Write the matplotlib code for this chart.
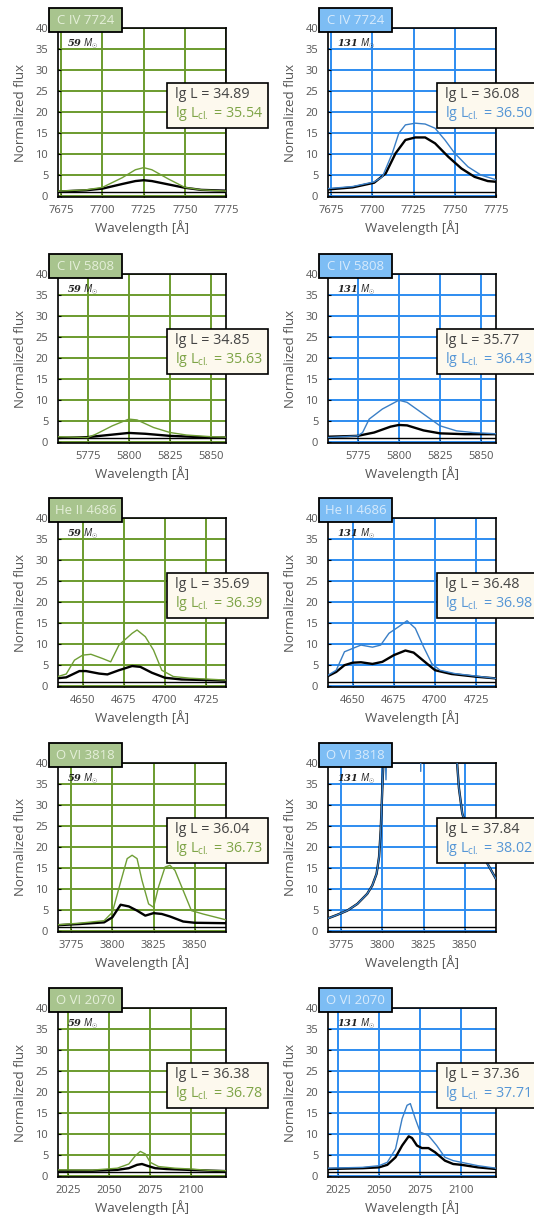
import matplotlib
matplotlib.use("Agg")
import matplotlib.pyplot as plt
from matplotlib.patches import Rectangle
from matplotlib.ticker import MultipleLocator

plt.rcParams['font.family'] = ['Open Sans', 'DejaVu Sans']
plt.rcParams['mathtext.fontset'] = 'custom'
plt.rcParams['mathtext.rm'] = 'Open Sans'
plt.rcParams['mathtext.it'] = 'Open Sans:italic'

# ---------------- data ----------------
line_names = ["C IV 7724", "C IV 5808", "He II 4686", "O VI 3818", "O VI 2070"]
line_centers = [7724, 5808, 4686, 3818, 2070]
masses = ["59", "131"]
lgL = [[34.89, 36.08], [34.85, 35.77], [35.69, 36.48], [36.04, 37.84], [36.38, 37.36]]
lgL_cl = [[35.54, 36.50], [35.63, 36.43], [36.39, 36.98], [36.73, 38.02], [36.78, 37.71]]
continuum = [1.0]

# C IV 7724, 59 Msun
wl_civ7724_59 = [7673, 7690, 7700, 7712, 7720, 7725, 7730, 7740, 7750, 7760, 7776]
fx_civ7724_59 = [1.0, 1.3, 1.7, 2.8, 3.5, 3.7, 3.5, 2.7, 1.9, 1.4, 1.2]
fxcl_civ7724_59 = [1.1, 1.4, 2.0, 4.3, 6.2, 6.7, 6.2, 4.0, 2.0, 1.4, 1.1]
# C IV 7724, 131 Msun
wl_civ7724_131 = [7673, 7688, 7701, 7708, 7714, 7720, 7726, 7732, 7738, 7746, 7754, 7762, 7770, 7776]
fx_civ7724_131 = [1.5, 2.0, 3.1, 5.3, 10.1, 13.3, 13.9, 13.9, 12.5, 9.3, 6.5, 4.5, 3.5, 3.3]
wlcl_civ7724_131 = [7673, 7688, 7701, 7706, 7712, 7716, 7720, 7726, 7732, 7738, 7744, 7750, 7758, 7766, 7776]
fxcl_civ7724_131 = [1.7, 2.2, 3.3, 4.5, 10.1, 14.9, 16.9, 17.3, 17.1, 16.1, 13.3, 10.1, 6.9, 4.9, 3.7]

# C IV 5808, 59 Msun
wl_civ5808_59 = [5757, 5775, 5790, 5800, 5810, 5825, 5850, 5859]
fx_civ5808_59 = [0.9, 1.1, 1.7, 2.1, 1.9, 1.4, 1.0, 1.0]
wlcl_civ5808_59 = [5757, 5775, 5780, 5790, 5800, 5805, 5815, 5825, 5835, 5850, 5859]
fxcl_civ5808_59 = [1.2, 1.0, 1.8, 3.8, 5.4, 5.2, 3.4, 2.2, 1.6, 1.2, 1.1]
# C IV 5808, 131 Msun
wl_civ5808_131 = [5757, 5775, 5785, 5795, 5800, 5805, 5815, 5825, 5840, 5859]
fx_civ5808_131 = [1.2, 1.4, 2.2, 3.6, 4.0, 3.9, 2.7, 2.0, 1.8, 1.8]
wlcl_civ5808_131 = [5757, 5775, 5778, 5782, 5790, 5800, 5805, 5815, 5825, 5835, 5845, 5859]
fxcl_civ5808_131 = [1.0, 1.4, 2.2, 5.4, 7.8, 9.9, 9.4, 6.6, 3.8, 2.6, 2.2, 1.9]

# He II 4686, 59 Msun
wl_heii_59 = [4635, 4640, 4648, 4652, 4660, 4665, 4672, 4680, 4685, 4692, 4700, 4710, 4725, 4737]
fx_heii_59 = [1.8, 2.0, 3.5, 3.5, 2.9, 2.7, 3.7, 4.7, 4.5, 3.1, 1.9, 1.5, 1.35, 1.2]
wlcl_heii_59 = [4635, 4640, 4645, 4650, 4655, 4662, 4667, 4672, 4680, 4683, 4688, 4693, 4698, 4705, 4715, 4725, 4737]
fxcl_heii_59 = [2.2, 2.8, 6.1, 7.3, 7.5, 6.5, 5.7, 9.7, 12.5, 13.3, 11.7, 8.5, 3.7, 2.2, 1.8, 1.6, 1.35]
# He II 4686, 131 Msun
wl_heii_131 = [4635, 4640, 4645, 4650, 4655, 4662, 4668, 4675, 4682, 4687, 4695, 4700, 4710, 4725, 4737]
fx_heii_131 = [2.3, 3.3, 4.9, 5.5, 5.6, 5.2, 5.7, 7.3, 8.4, 7.9, 5.3, 3.7, 2.8, 2.15, 1.75]
wlcl_heii_131 = [4635, 4640, 4645, 4650, 4655, 4662, 4667, 4672, 4678, 4683, 4688, 4693, 4698, 4703, 4712, 4725, 4737]
fxcl_heii_131 = [2.5, 3.7, 8.1, 8.9, 9.7, 9.2, 9.7, 12.5, 14.1, 15.5, 13.7, 9.3, 5.3, 3.7, 2.9, 2.3, 1.75]

# O VI 3818, 59 Msun
wl_ovi3818_59 = [3766, 3780, 3795, 3800, 3805, 3810, 3815, 3820, 3825, 3830, 3835, 3843, 3850, 3869]
fx_ovi3818_59 = [1.3, 1.6, 2.0, 3.2, 6.2, 5.8, 4.8, 3.6, 4.2, 4.0, 3.4, 2.2, 1.9, 1.8]
wlcl_ovi3818_59 = [3766, 3780, 3795, 3800, 3805, 3809, 3812, 3815, 3818, 3822, 3825, 3828, 3832, 3835, 3838, 3843, 3848, 3855, 3869]
fxcl_ovi3818_59 = [1.4, 1.8, 2.4, 4.4, 11.6, 17.2, 18.0, 17.2, 12.0, 6.4, 5.6, 10.4, 15.2, 15.6, 14.4, 9.6, 4.8, 4.0, 2.6]
# O VI 3818, 131 Msun
wl_ovi3818_131 = [3766, 3772.6, 3778.7, 3784.8, 3790.8, 3793.9, 3796.5, 3798, 3799, 3799.8, 3800.6,
                  3803, 3810, 3825, 3840, 3845, 3846.5, 3848.5, 3851.5, 3855.5, 3861.5, 3865.5, 3869.5]
fx_ovi3818_131 = [2.8, 3.8, 4.8, 6.4, 8.8, 10.8, 13.6, 17.6, 24.0, 32.0, 40.0,
                  52, 75, 90, 70, 42, 34, 28, 24, 20.8, 17.6, 14.8, 12.0]
wlcl_ovi3818_131 = [3766, 3772.6, 3778.7, 3784.8, 3790.8, 3793.9, 3796.5, 3798, 3799, 3799.8, 3800.6,
                    3801.5, 3802.2, 3803, 3810, 3822.5, 3823.3, 3824, 3840, 3845, 3846.5, 3848.5,
                    3851.5, 3855.5, 3861.5, 3865.5, 3869.5]
fxcl_ovi3818_131 = [2.8, 3.8, 4.8, 6.4, 8.8, 10.8, 13.6, 17.6, 24.0, 32.0, 40.0,
                    46, 36, 48, 75, 85, 38, 88, 70, 42, 34, 28, 24, 20.8, 17.6, 14.8, 12.0]

# O VI 2070, 59 Msun
wl_ovi2070_59 = [2018.5, 2040, 2055, 2062, 2067, 2070, 2073, 2078, 2085, 2095, 2105, 2121]
fx_ovi2070_59 = [1.2, 1.2, 1.4, 1.8, 2.6, 2.8, 2.4, 1.8, 1.6, 1.45, 1.3, 1.1]
wlcl_ovi2070_59 = [2018.5, 2040, 2055, 2062, 2066, 2069, 2072, 2075, 2080, 2090, 2100, 2110, 2121]
fxcl_ovi2070_59 = [1.4, 1.35, 1.8, 2.8, 4.8, 5.8, 5.2, 3.2, 2.2, 1.8, 1.6, 1.3, 1.2]
# O VI 2070, 131 Msun
wl_ovi2070_131 = [2018.5, 2040, 2050, 2055, 2060, 2064, 2068, 2070, 2073, 2076, 2080, 2084, 2090, 2095, 2100, 2110, 2121]
fx_ovi2070_131 = [1.6, 1.8, 2.0, 2.6, 4.4, 7.2, 9.4, 9.0, 7.2, 6.6, 6.6, 5.6, 3.6, 2.8, 2.6, 2.0, 1.6]
wlcl_ovi2070_131 = [2018.5, 2040, 2050, 2055, 2060, 2064, 2067, 2069, 2072, 2075, 2080, 2085, 2090, 2095, 2100, 2110, 2121]
fxcl_ovi2070_131 = [1.8, 2.0, 2.4, 3.2, 6.4, 13.6, 16.8, 17.2, 13.6, 10.4, 9.6, 7.2, 4.4, 3.6, 3.2, 2.4, 1.8]

spectra = [
    [(wl_civ7724_59, fx_civ7724_59, wl_civ7724_59, fxcl_civ7724_59),
     (wl_civ7724_131, fx_civ7724_131, wlcl_civ7724_131, fxcl_civ7724_131)],
    [(wl_civ5808_59, fx_civ5808_59, wlcl_civ5808_59, fxcl_civ5808_59),
     (wl_civ5808_131, fx_civ5808_131, wlcl_civ5808_131, fxcl_civ5808_131)],
    [(wl_heii_59, fx_heii_59, wlcl_heii_59, fxcl_heii_59),
     (wl_heii_131, fx_heii_131, wlcl_heii_131, fxcl_heii_131)],
    [(wl_ovi3818_59, fx_ovi3818_59, wlcl_ovi3818_59, fxcl_ovi3818_59),
     (wl_ovi3818_131, fx_ovi3818_131, wlcl_ovi3818_131, fxcl_ovi3818_131)],
    [(wl_ovi2070_59, fx_ovi2070_59, wlcl_ovi2070_59, fxcl_ovi2070_59),
     (wl_ovi2070_131, fx_ovi2070_131, wlcl_ovi2070_131, fxcl_ovi2070_131)],
]

# ---------------- style ----------------
W, H = 534, 1217
grid_cols = ['#6b9b2e', '#2d8cf0']
line_cols = ['#6f9e35', '#3a7fc6']
title_fill = ['#a8c48e', '#7dbdf4']
title_txt = ['#e4efd8', '#d6eafc']
ann_cols = ['#7ea447', '#5596d6']
txt_grey = '#555555'
col_left_px = [58, 328]
row_top_px = [28, 274, 518, 763, 1008]
ax_w_px, ax_h_px = 168, 169
XHALF = 51

fig = plt.figure(figsize=(W / 100, H / 100), dpi=100)

for r in range(5):
    for c in range(2):
        l = col_left_px[c] / W
        b = (H - row_top_px[r] - ax_h_px) / H
        ax = fig.add_axes([l, b, ax_w_px / W, ax_h_px / H])
        wl, fx, wlcl, fxcl = spectra[r][c]
        ax.axhline(continuum[0], color='black', lw=1.0, zorder=2)
        ax.plot(wl, fx, color='black', lw=1.7, zorder=3)
        ax.plot(wlcl, fxcl, color=line_cols[c], lw=1.0, zorder=4)
        ax.set_xlim(line_centers[r] - XHALF, line_centers[r] + XHALF)
        ax.set_ylim(-0.3, 40)
        ax.xaxis.set_major_locator(MultipleLocator(25))
        ax.yaxis.set_major_locator(MultipleLocator(5))
        ax.grid(True, color=grid_cols[c], lw=1.4)
        ax.set_axisbelow(True)
        for s in ax.spines.values():
            s.set_linewidth(1.2)
            s.set_color('black')
        ax.tick_params(direction='in', length=2, width=0.8, labelsize=8,
                       labelcolor=txt_grey)
        ax.tick_params(axis='x', pad=6)
        ax.tick_params(axis='y', pad=7)
        ax.set_xlabel('Wavelength [Å]', fontsize=9.5, color=txt_grey)
        ax.set_ylabel('Normalized flux', fontsize=9.5, color=txt_grey)
        ax.xaxis.set_label_coords(0.5, -0.135)
        ax.yaxis.set_label_coords(-0.185, 0.5)

        # title box
        ax.add_patch(Rectangle((-0.054, 0.976), 0.435, 0.142, transform=ax.transAxes,
                               facecolor=title_fill[c], edgecolor='black', lw=1.3,
                               clip_on=False, zorder=10))
        ax.text(0.164, 1.047, line_names[r], transform=ax.transAxes, ha='center',
                va='center', fontsize=9.5, color=title_txt[c], zorder=11, clip_on=False)
        # mass
        ax.text(0.055, 0.905, masses[c] + r' $M_{\odot}$', transform=ax.transAxes,
                ha='left', va='center', fontsize=7, fontfamily='DejaVu Serif',
                fontstyle='italic', fontweight='bold', color='#222222', zorder=5)
        # luminosity box
        ax.add_patch(Rectangle((0.649, 0.408), 0.60, 0.267, transform=ax.transAxes,
                               facecolor='#fdf9ee', edgecolor='black', lw=1.2,
                               clip_on=False, zorder=10))
        ax.text(0.695, 0.604, 'lg L = %.2f' % lgL[r][c], transform=ax.transAxes,
                ha='left', va='center', fontsize=10.3, color='#444444', zorder=11, clip_on=False)
        ax.text(0.695, 0.492, r'lg L$_{\mathrm{cl.}}$ = %.2f' % lgL_cl[r][c], transform=ax.transAxes,
                ha='left', va='center', fontsize=10.3, color=ann_cols[c], zorder=11, clip_on=False)

fig.savefig('out.png', dpi=100)
